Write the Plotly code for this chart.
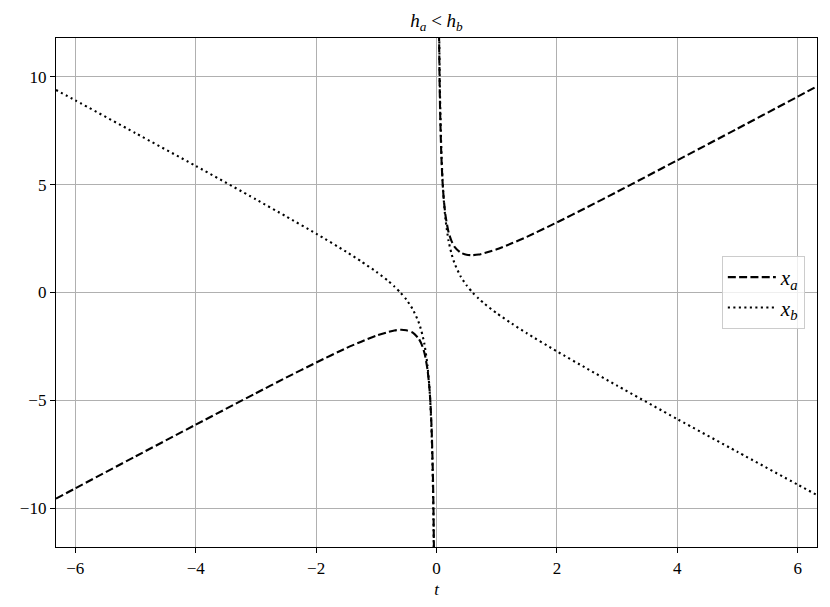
import plotly.graph_objects as go

# t values (negative branch, then positive branch)
t_neg = [-6.32, -6.0, -5.0, -4.0, -3.0, -2.5, -2.0, -1.5, -1.25, -1.0, -0.8, -0.7, -0.6,
         -0.5, -0.4, -0.3, -0.25, -0.2, -0.15, -0.12, -0.1, -0.08, -0.06, -0.05, -0.04]
t_pos = [0.04, 0.05, 0.06, 0.08, 0.1, 0.12, 0.15, 0.2, 0.25, 0.3, 0.4, 0.5, 0.6,
         0.7, 0.8, 1.0, 1.25, 1.5, 2.0, 2.5, 3.0, 4.0, 5.0, 6.0, 6.32]

xa_neg = [-9.56, -9.08, -7.6, -6.13, -4.67, -3.95, -3.25, -2.58, -2.28, -2.0, -1.83, -1.76, -1.73,
          -1.75, -1.85, -2.12, -2.38, -2.8, -3.56, -4.35, -5.15, -6.37, -8.42, -10.08, -12.56]
xa_pos = [12.56, 10.08, 8.42, 6.37, 5.15, 4.35, 3.56, 2.8, 2.38, 2.12, 1.85, 1.75, 1.73,
          1.76, 1.83, 2.0, 2.28, 2.58, 3.25, 3.95, 4.67, 6.13, 7.6, 9.08, 9.56]

xb_neg = [9.39, 8.91, 7.39, 5.87, 4.32, 3.53, 2.73, 1.89, 1.44, 0.96, 0.53, 0.28, 0.0,
          -0.33, -0.75, -1.35, -1.79, -2.4, -3.38, -4.32, -5.25, -6.63, -8.91, -10.73, -13.43]
xb_pos = [13.43, 10.73, 8.91, 6.63, 5.25, 4.32, 3.38, 2.4, 1.79, 1.35, 0.75, 0.33, 0.0,
          -0.28, -0.53, -0.96, -1.44, -1.89, -2.73, -3.53, -4.32, -5.87, -7.39, -8.91, -9.39]

x_ticks = [-6, -4, -2, 0, 2, 4, 6]
y_ticks = [-10, -5, 0, 5, 10]

t_all = t_neg + [None] + t_pos
xa_all = xa_neg + [None] + xa_pos
xb_all = xb_neg + [None] + xb_pos

SERIF = "Times New Roman, Liberation Serif, serif"

fig = go.Figure()
fig.add_trace(go.Scatter(
    x=t_all, y=xa_all, mode="lines", name="<i>x<sub>a</sub></i>",
    line=dict(color="black", width=2.1, dash="8px,3.3px", shape="spline", smoothing=0.6),
    connectgaps=False,
))
fig.add_trace(go.Scatter(
    x=t_all, y=xb_all, mode="lines", name="<i>x<sub>b</sub></i>",
    line=dict(color="black", width=2.1, dash="2.1px,3.4px", shape="spline", smoothing=0.6),
    connectgaps=False,
))

axis_common = dict(
    showline=True, linecolor="black", linewidth=1.3, mirror=True,
    ticks="outside", ticklen=5, tickwidth=1.1, tickcolor="black",
    showgrid=True, gridcolor="#b0b0b0", gridwidth=1.1, zeroline=False,
    tickfont=dict(family=SERIF, size=17, color="black"),
)

fig.update_xaxes(range=[-6.32, 6.32], tickvals=x_ticks,
                 title=dict(text="<i>t</i>", font=dict(family=SERIF, size=17, color="black"), standoff=6),
                 **axis_common)
fig.update_yaxes(range=[-11.8, 11.8], tickvals=y_ticks, **axis_common)

fig.update_layout(
    width=822, height=599,
    margin=dict(l=44, r=13, t=30, b=59),
    paper_bgcolor="white", plot_bgcolor="white",
    title=dict(text="<i>h<sub>a</sub></i> &lt; <i>h<sub>b</sub></i>",
               x=0.5, xref="paper", xanchor="center", y=0.98, yref="container", yanchor="middle",
               font=dict(family=SERIF, size=19, color="black")),
    legend=dict(x=0.984, y=0.5, xanchor="right", yanchor="middle",
                bgcolor="rgba(255,255,255,0.8)", bordercolor="#cccccc", borderwidth=1,
                font=dict(family=SERIF, size=21, color="black"),
                itemwidth=48, tracegroupgap=4),
    showlegend=True,
)

fig.write_html("out.html")
